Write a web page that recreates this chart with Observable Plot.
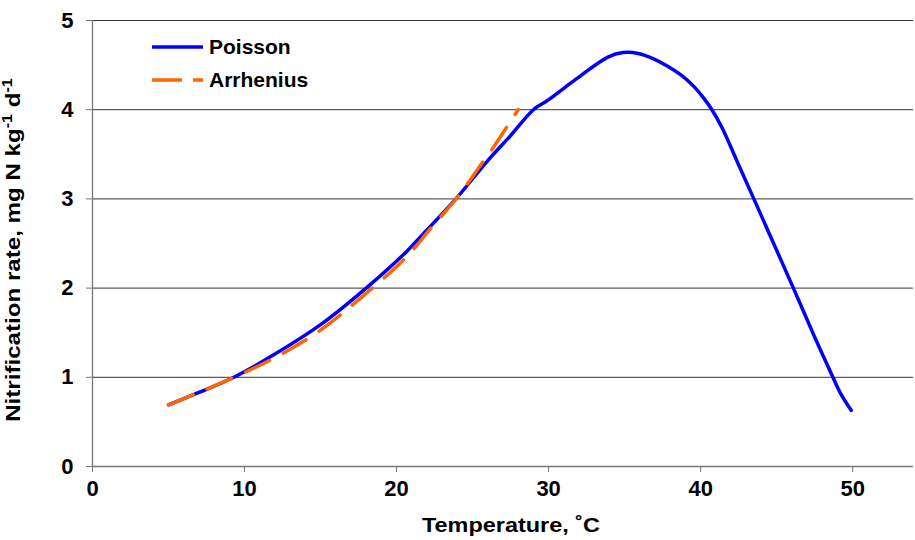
<!DOCTYPE html>
<html>
<head>
<meta charset="utf-8">
<script src="https://cdn.jsdelivr.net/npm/d3@7"></script>
<script src="https://cdn.jsdelivr.net/npm/@observablehq/plot@0.6"></script>
<style>
  html, body { margin: 0; padding: 0; background: #fff; }
  #wrap { position: relative; width: 915px; height: 540px; font-family: "Liberation Sans", Arial, sans-serif; }
  #legend { position: absolute; left: 152px; top: 30px; font-weight: bold; font-size: 21px; color: #000; }
  .row { display: flex; align-items: center; height: 33px; }
  .row svg { margin-right: 6px; }
</style>
</head>
<body>
<div id="wrap"></div>
<script>
// ---- data ----
const seriesNames = ["Poisson", "Arrhenius"];
const seriesColors = ["#0000FF", "#FF6600"];

const poissonT = [5, 7, 9.3, 12, 15, 18, 20.6, 21.6, 23.9, 26.0, 27.5, 29.0, 29.9, 31, 32.1, 33.9, 34.9, 35.9, 36.9, 37.8, 38.7, 39.5, 40.2, 40.7, 41.4, 42.4, 43.5, 44.8, 46.1, 47.4, 48.7, 49.2, 49.9];
const poissonR = [0.69, 0.83, 1.0, 1.26, 1.59, 2.0, 2.40, 2.58, 3.0, 3.43, 3.71, 4.0, 4.10, 4.24, 4.38, 4.59, 4.64, 4.63, 4.57, 4.49, 4.39, 4.27, 4.13, 4.01, 3.80, 3.42, 3.0, 2.5, 2.0, 1.49, 1.0, 0.82, 0.63];

const arrheniusT = [5, 7, 9.3, 12, 15, 18.4, 20.6, 22.3, 24.1, 25.7, 26.3, 27.3, 28.0];
const arrheniusR = [0.69, 0.83, 1.0, 1.22, 1.53, 2.0, 2.34, 2.68, 3.04, 3.42, 3.56, 3.82, 4.0];

const xTicks = [0, 10, 20, 30, 40, 50];
const yTicks = [0, 1, 2, 3, 4, 5];
const xLabel = "Temperature, ˚C";

// ---- build tables ----
const poisson = poissonT.map((t, i) => ({T: t, R: poissonR[i]}));
const arrhenius = arrheniusT.map((t, i) => ({T: t, R: arrheniusR[i]}));

const FONT = '"Liberation Sans", Arial, sans-serif';

const chart = Plot.plot({
  width: 915,
  height: 540,
  marginLeft: 92,
  marginRight: 2,
  marginTop: 20,
  marginBottom: 74,
  x: {domain: [0, 54]},
  y: {domain: [0, 5]},
  style: {fontFamily: FONT, fontSize: "22px", fontWeight: "bold", color: "#000", background: "#fff", overflow: "visible"},
  marks: [
    Plot.gridY(yTicks.slice(1), {stroke: "#111", strokeOpacity: 0.85, strokeWidth: 1}),
    Plot.ruleY([0], {stroke: "#777", strokeWidth: 1.3}),
    Plot.ruleX([0], {stroke: "#777", strokeWidth: 1.3}),
    Plot.axisY(yTicks, {tickSize: 6, tickPadding: 13, stroke: "#777", label: null, fill: "#000", tickFormat: d3.format("d")}),
    Plot.axisX(xTicks, {tickSize: 6, tickPadding: 8, stroke: "#777", label: null, fill: "#000", tickFormat: d3.format("d")}),
    Plot.line(poisson, {x: "T", y: "R", stroke: seriesColors[0], strokeWidth: 3.5, curve: "catmull-rom"}),
    Plot.line(arrhenius, {x: "T", y: "R", stroke: seriesColors[1], strokeWidth: 3.5, curve: "catmull-rom",
      strokeDasharray: "26.5,15.5", strokeLinecap: "round"})
  ]
});

document.getElementById("wrap").appendChild(chart);

// axis titles as real text, stretched to the reference widths
const svg = d3.select(chart);
const xl = svg.append("text")
  .attr("text-anchor", "middle")
  .style("font-family", FONT).style("font-size", "21px").style("font-weight", "bold")
  .attr("fill", "#000")
  .text(xLabel);
const xw = xl.node().getBBox().width;
xl.attr("transform", `translate(511,532) scale(${178 / xw},1)`);

const yl = svg.append("text")
  .attr("text-anchor", "middle")
  .style("font-family", FONT).style("font-size", "21px").style("font-weight", "bold")
  .attr("fill", "#000");
yl.append("tspan").text("Nitrification rate, mg N kg");
yl.append("tspan").attr("dy", -8).style("font-size", "14px").text("-1");
yl.append("tspan").attr("dy", 8).text(" d");
yl.append("tspan").attr("dy", -8).style("font-size", "14px").text("-1");
const yw = yl.node().getBBox().width;
yl.attr("transform", `translate(20,250) rotate(-90) scale(${344 / yw},1)`);

// legend
const legend = document.createElement("div");
legend.id = "legend";
seriesNames.forEach((name, i) => {
  const row = document.createElement("div");
  row.className = "row";
  const dash = i === 1 ? 'stroke-dasharray="30,11" stroke-linecap="butt"' : '';
  row.innerHTML = `<svg width="51" height="10"><line x1="0" y1="5" x2="51" y2="5" stroke="${seriesColors[i]}" stroke-width="3.5" ${dash}/></svg><span>${name}</span>`;
  legend.appendChild(row);
});
document.getElementById("wrap").appendChild(legend);
</script>
</body>
</html>
